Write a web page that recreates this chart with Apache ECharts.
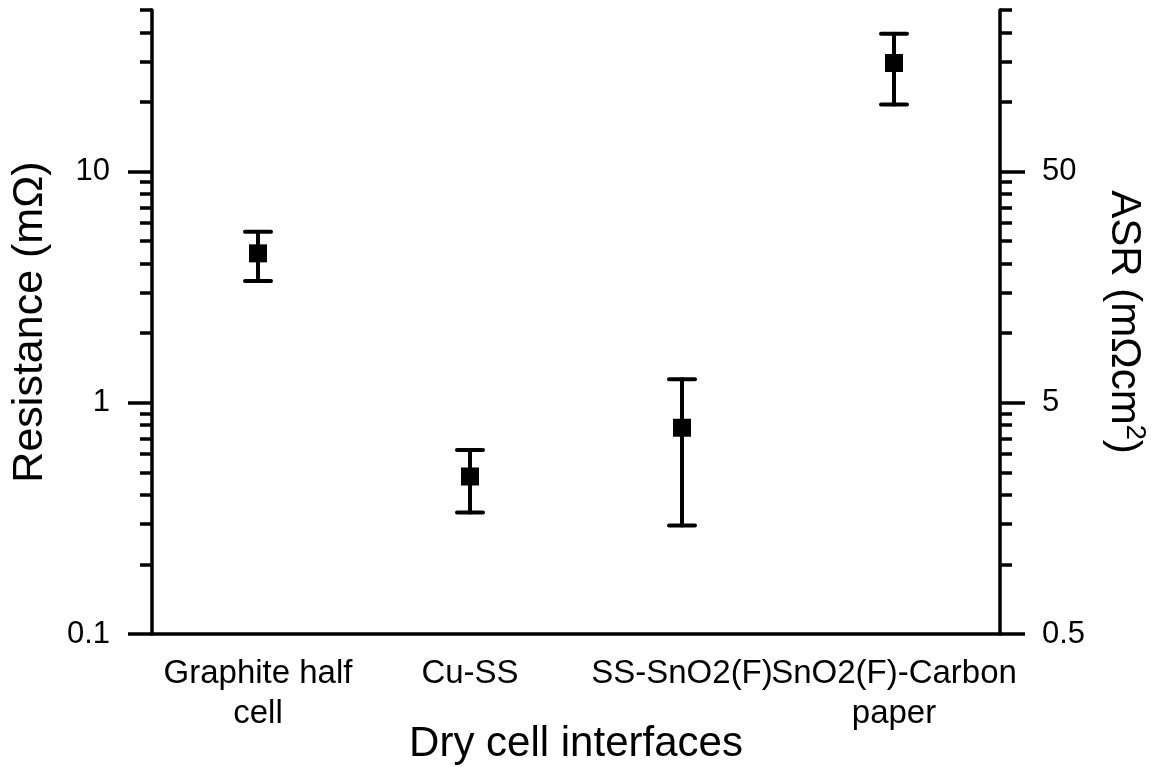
<!DOCTYPE html>
<html>
<head>
<meta charset="utf-8">
<title>Dry cell interfaces</title>
<script src="https://cdn.jsdelivr.net/npm/echarts@6/dist/echarts.min.js"></script>
<style>
  html, body { margin: 0; padding: 0; background: #fff; }
  #chart { width: 1154px; height: 767px; }
</style>
</head>
<body>
<div id="chart"></div>
<script>
// Interfaces measured
const categories = ['Graphite half\ncell', 'Cu-SS', 'SS-SnO2(F)', 'SnO2(F)-Carbon\npaper'];
// Mean contact resistance (mΩ) and its standard deviation
const resistance = [4.43, 0.48, 0.78, 29.5];
const resistanceErr = [1.07, 0.145, 0.485, 10.0];

// Axis ticks (left: resistance, right: area-specific resistance)
const leftMajorTicks = [0.1, 1, 10];
const leftMinorTicks = [0.2, 0.3, 0.4, 0.5, 0.6, 0.7, 0.8, 0.9, 2, 3, 4, 5, 6, 7, 8, 9, 20, 30, 40, 50];
const rightMajorTicks = [0.5, 5, 50];
const rightMinorTicks = [1, 1.5, 2, 2.5, 3, 3.5, 4, 4.5, 10, 15, 20, 25, 30, 35, 40, 45, 100, 150, 200, 250];

const FONT = "'Liberation Sans', Arial, sans-serif";
const INK = '#000';
const LW = 3.5;

const errData = resistance.map((v, i) => [i, v, v - resistanceErr[i], v + resistanceErr[i]]);
const pointData = resistance.map((v, i) => [i, v]);

function logAxis(opts) {
  return Object.assign({
    type: 'log',
    logBase: 10,
    splitLine: { show: false },
    minorTick: { show: false },
    minorSplitLine: { show: false },
    nameMoveOverlap: false,
    axisLine: { show: true, lineStyle: { color: INK, width: LW } },
    axisTick: { show: true, inside: false, lineStyle: { color: INK, width: LW } },
    axisLabel: { show: true, color: INK, fontFamily: FONT, fontSize: 31, margin: 42 }
  }, opts);
}

const chart = echarts.init(document.getElementById('chart'), null, { renderer: 'canvas' });

chart.setOption({
  animation: false,
  backgroundColor: '#fff',
  grid: { left: 152, right: 154, top: 10, bottom: 133, containLabel: false, outerBoundsMode: 'none' },
  xAxis: {
    type: 'category',
    data: categories,
    boundaryGap: true,
    name: 'Dry cell interfaces',
    nameLocation: 'middle',
    nameGap: 89,
    nameMoveOverlap: false,
    nameTextStyle: { color: INK, fontFamily: FONT, fontSize: 42 },
    axisLine: { lineStyle: { color: INK, width: LW } },
    axisTick: { alignWithLabel: true, length: 11, lineStyle: { color: INK, width: LW } },
    axisLabel: {
      interval: 0, hideOverlap: false, color: INK, fontFamily: FONT,
      fontSize: 33, lineHeight: 40, margin: 20
    },
    splitLine: { show: false }
  },
  yAxis: [
    logAxis({
      min: 0.1, max: 50, position: 'left',
      name: 'Resistance (mΩ)',
      nameLocation: 'middle',
      nameGap: 100,
      nameTextStyle: { color: INK, fontFamily: FONT, fontSize: 43 },
      axisTick: { show: true, length: 24, customValues: leftMajorTicks, lineStyle: { color: INK, width: LW } },
      axisLabel: { color: INK, fontFamily: FONT, fontSize: 31, margin: 42, customValues: leftMajorTicks }
    }),
    logAxis({
      min: 0.1, max: 50, position: 'left',
      axisLine: { show: false },
      axisTick: { show: true, length: 12, customValues: leftMinorTicks, lineStyle: { color: INK, width: LW } },
      axisLabel: { show: false }
    }),
    logAxis({
      min: 0.5, max: 250, position: 'right',
      name: 'ASR (mΩcm{sup|2})',
      nameLocation: 'middle',
      nameRotate: -90,
      nameGap: 100,
      nameTextStyle: {
        color: INK, fontFamily: FONT, fontSize: 42,
        rich: { sup: { color: INK, fontFamily: FONT, fontSize: 27, verticalAlign: 'top', lineHeight: 48 } }
      },
      axisTick: { show: true, length: 25, customValues: rightMajorTicks, lineStyle: { color: INK, width: LW } },
      axisLabel: { color: INK, fontFamily: FONT, fontSize: 31, margin: 42, customValues: rightMajorTicks }
    }),
    logAxis({
      min: 0.5, max: 250, position: 'right',
      axisLine: { show: false },
      axisTick: { show: true, length: 12, customValues: rightMinorTicks, lineStyle: { color: INK, width: LW } },
      axisLabel: { show: false }
    })
  ],
  series: [
    {
      // error bars: vertical stem with horizontal caps
      type: 'custom',
      yAxisIndex: 0,
      data: errData,
      encode: { x: 0, y: [2, 3] },
      z: 3,
      renderItem: function (params, api) {
        const idx = api.value(0);
        const lo = api.coord([idx, api.value(2)]);
        const hi = api.coord([idx, api.value(3)]);
        const half = 13;
        const style = { stroke: INK, lineWidth: 4, lineCap: 'round' };
        return {
          type: 'group',
          children: [
            { type: 'line', shape: { x1: lo[0], y1: lo[1], x2: hi[0], y2: hi[1] }, style: style },
            { type: 'line', shape: { x1: hi[0] - half, y1: hi[1], x2: hi[0] + half, y2: hi[1] }, style: style },
            { type: 'line', shape: { x1: lo[0] - half, y1: lo[1], x2: lo[0] + half, y2: lo[1] }, style: style }
          ]
        };
      }
    },
    {
      type: 'scatter',
      yAxisIndex: 0,
      data: pointData,
      symbol: 'rect',
      symbolSize: 18,
      itemStyle: { color: INK, opacity: 1 },
      z: 4
    }
  ]
});
</script>
</body>
</html>
